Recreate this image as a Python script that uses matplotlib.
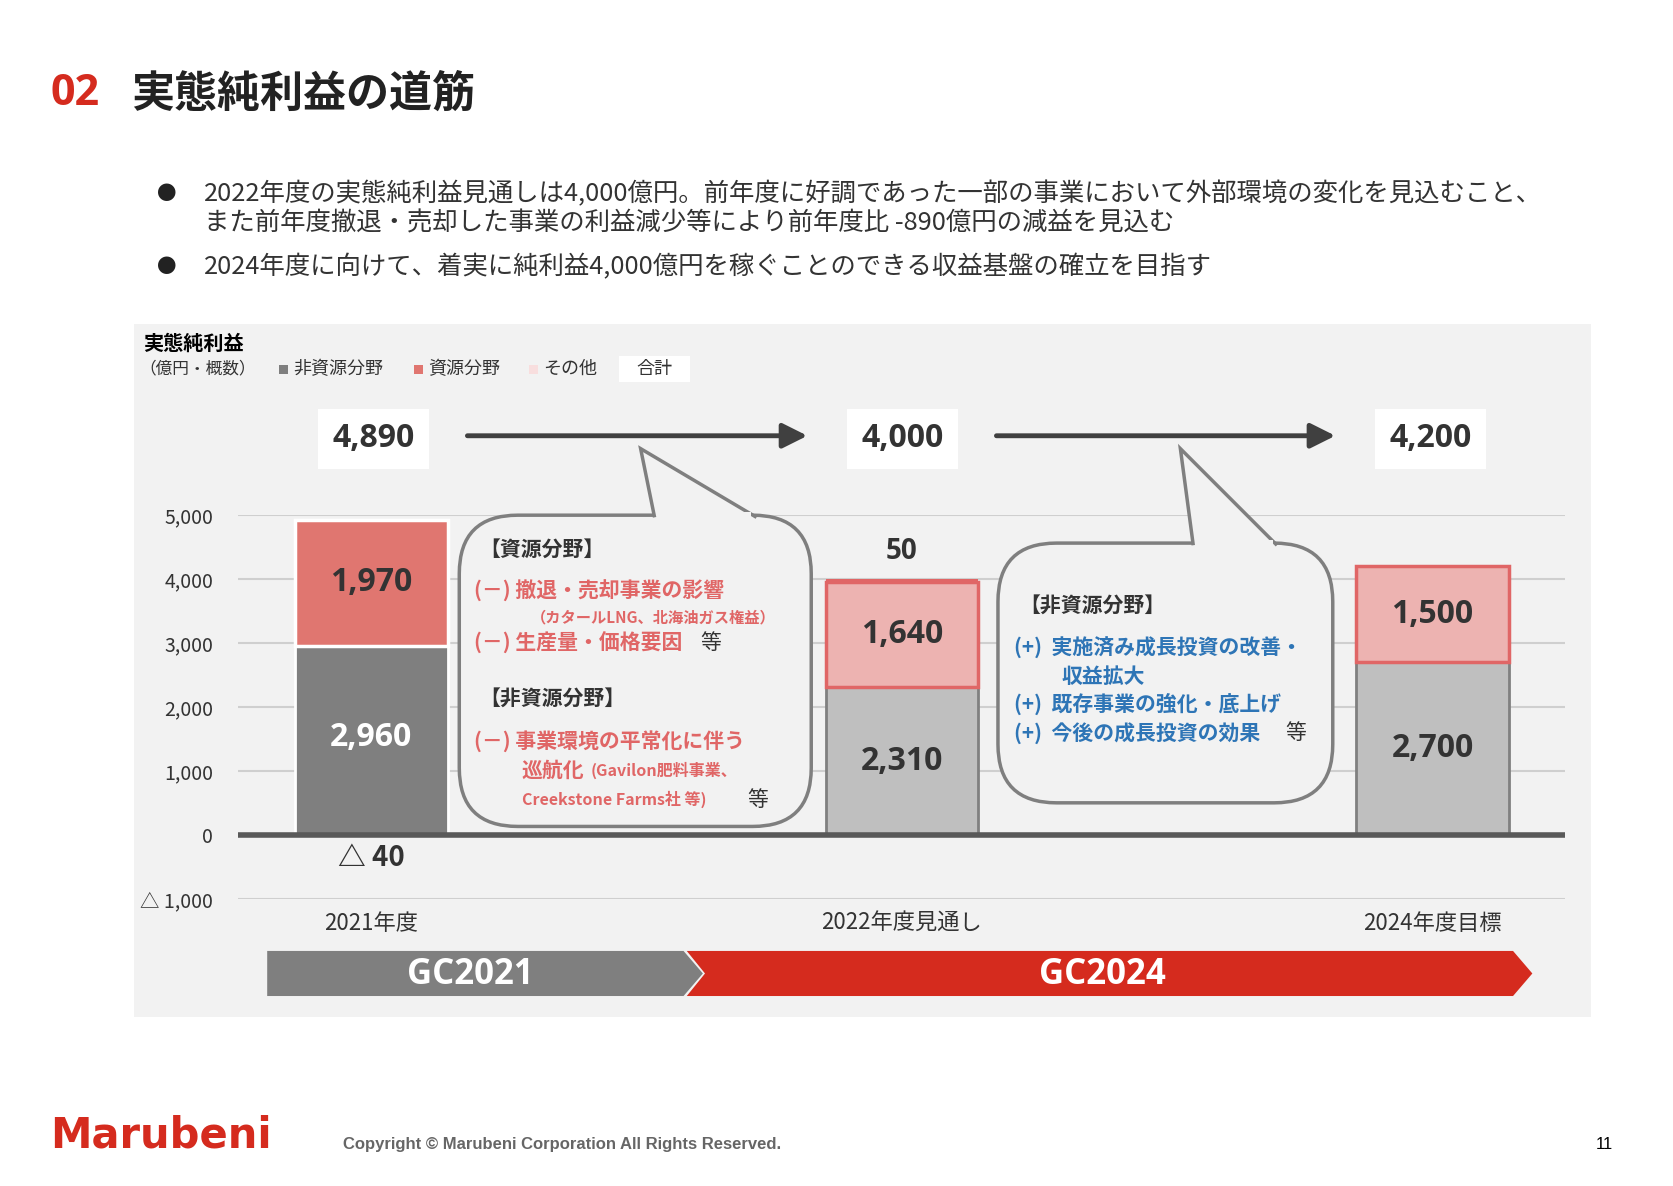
import matplotlib
matplotlib.use("Agg")
import matplotlib.pyplot as plt
from matplotlib.patches import FancyBboxPatch, Rectangle, Polygon
plt.rcParams['font.family'] = ['Noto Sans CJK JP']

categories = ["2021年度", "2022年度見通し", "2024年度目標"]
non_resource = [2960, 2310, 2700]
resource = [1970, 1640, 1500]
other = [-40, 50, 0]
totals = ["4,890", "4,000", "4,200"]
yticks = [-1000, 0, 1000, 2000, 3000, 4000, 5000]
ytick_labels = ["△ 1,000", "0", "1,000", "2,000", "3,000", "4,000", "5,000"]

W, H = 1560, 1105
fig = plt.figure(figsize=(16.74, 11.86), dpi=100)
def fx(x): return x / W
def fy(y): return 1 - y / H
T = fig.transFigure
NUM = "Open Sans"

def box(x0, y0, x1, y1, **kw):
    fig.patches.append(Rectangle((fx(x0), fy(y1)), fx(x1) - fx(x0), fy(y0) - fy(y1), transform=T, **kw))

box(125, 302, 1483, 948, facecolor="#f2f2f2", edgecolor="none", zorder=-5)

fig.text(fx(47), fy(87), "02", color="#d52b1e", fontsize=31, fontweight="bold", va="center", fontfamily=NUM)
fig.text(fx(122), fy(87), "実態純利益の道筋", color="#222222", fontsize=31, fontweight="bold", va="center")
for y, t in [(181, "2022年度の実態純利益見通しは4,000億円。前年度に好調であった一部の事業において外部環境の変化を見込むこと、"),
             (208, "また前年度撤退・売却した事業の利益減少等により前年度比 -890億円の減益を見込む"),
             (249, "2024年度に向けて、着実に純利益4,000億円を稼ぐことのできる収益基盤の確立を目指す")]:
    fig.text(fx(190), fy(y), t, fontsize=18.3, color="#333333", va="center")
for y in [181, 249]:
    fig.text(fx(155), fy(y), "●", fontsize=14, color="#222222", va="center", ha="center")

fig.text(fx(133), fy(320), "実態純利益", fontsize=14.5, fontweight="bold", va="center")
fig.text(fx(130), fy(344), "（億円・概数）", fontsize=12, va="center", color="#333333")
for x, c, t in [(260, "#7f7f7f", "非資源分野"), (386, "#e07670", "資源分野"), (493, "#f8dede", "その他")]:
    box(x, 340, x + 8, 348, facecolor=c, edgecolor="none")
    fig.text(fx(x + 13), fy(344), t, fontsize=13, va="center", color="#333333")
box(577, 332, 643, 356, facecolor="white", edgecolor="none")
fig.text(fx(610), fy(344), "合計", fontsize=13, va="center", ha="center", color="#333333")

ax = fig.add_axes([fx(222), fy(838), fx(1458) - fx(222), fy(480) - fy(838)])
ax.set_zorder(2)
ax.patch.set_visible(False)
ax.set_xlim(-0.251, 2.249)
ax.set_ylim(-1000, 5000)
for s in ax.spines.values():
    s.set_visible(False)
ax.set_xticks([])
ax.set_yticks(yticks)
ax.set_yticklabels(ytick_labels, fontsize=14, color="#333333")
ax.tick_params(length=0, pad=18)
for v in yticks:
    if v != 0:
        ax.axhline(v, color="#cfcfcf", lw=1.5, zorder=1)
ax.axhline(0, color="#595959", lw=4, zorder=4)

x = range(3)
wd = 0.287
nr_col = ["#7f7f7f", "#bfbfbf", "#bfbfbf"]
r_col = ["#e07670", "#edb3b1", "#edb3b1"]
r_edge = ["white", "#e06666", "#e06666"]
for i in x:
    ax.bar(i, non_resource[i], wd, color=nr_col[i], edgecolor="white" if i == 0 else "#808080", lw=2, zorder=3)
    ax.bar(i, resource[i], wd, bottom=non_resource[i], color=r_col[i], edgecolor=r_edge[i], lw=2.5, zorder=3)
    tc = "white" if i == 0 else "#333333"
    ax.text(i, non_resource[i] * 0.5 + (0 if i else 50), f"{non_resource[i]:,}", ha="center", va="center", fontsize=23, fontweight="bold", color=tc, zorder=5, fontfamily=NUM)
    ax.text(i, non_resource[i] + resource[i] / 2, f"{resource[i]:,}", ha="center", va="center", fontsize=23, fontweight="bold", color="#333333", zorder=5, fontfamily=NUM)
ax.bar(1, other[1], wd, bottom=non_resource[1] + resource[1], color="#e06666", zorder=3)
ax.text(1, 4200, f"{other[1]}", ha="center", va="bottom", fontsize=20, fontweight="bold", color="#333333", fontfamily=NUM)
ax.text(0, -350, f"△ {abs(other[0])}", ha="center", va="center", fontsize=20, fontweight="bold", color="#333333")
for i in x:
    ax.text(i, -1380, categories[i], ha="center", va="center", fontsize=16, color="#333333")

for cx, t in zip([348, 841, 1333], totals):
    box(cx - 52, 381, cx + 52, 437, facecolor="white", edgecolor="none", zorder=2)
    fig.text(fx(cx), fy(409), t, fontsize=23, fontweight="bold", ha="center", va="center", color="#333333", zorder=3, fontfamily=NUM)
for x0, x1 in [(433, 755), (926, 1247)]:
    fig.add_artist(matplotlib.patches.FancyArrowPatch((fx(x0), fy(406)), (fx(x1), fy(406)), transform=T,
                   arrowstyle="-|>,head_length=10,head_width=5", color="#404040", lw=3.5, mutation_scale=1.5))

def callout(x0, y0, x1, y1, tail):
    fig.patches.append(FancyBboxPatch((fx(x0), fy(y1)), fx(x1) - fx(x0), fy(y0) - fy(y1),
                       boxstyle="round,pad=0,rounding_size=0.035", transform=T, facecolor="#f2f2f2",
                       edgecolor="#7f7f7f", lw=2.5, zorder=5, mutation_aspect=1.41))
    fig.patches.append(Polygon([(fx(a), fy(b)) for a, b in tail], closed=False, transform=T,
                       facecolor="#f2f2f2", edgecolor="#7f7f7f", lw=2.5, zorder=6))
callout(428, 480, 756, 770, [(610, 482), (597, 418), (705, 482)])
callout(930, 506, 1242, 748, [(1112, 508), (1100, 418), (1190, 508)])
fig.patches.append(Rectangle((fx(612), fy(484)), fx(700) - fx(612), 0.006, transform=T, facecolor="#f2f2f2", edgecolor="none", zorder=7))
fig.patches.append(Rectangle((fx(1114), fy(510)), fx(1186) - fx(1114), 0.006, transform=T, facecolor="#f2f2f2", edgecolor="none", zorder=7))

red = "#e06666"; blue = "#2e75b6"
def t(xp, yp, s, c="#333333", fs=15, w="bold"):
    fig.text(fx(xp), fy(yp), s, color=c, fontsize=fs, fontweight=w, va="center", zorder=8)
t(447, 512, "【資源分野】")
t(442, 551, "(－) 撤退・売却事業の影響", red)
t(495, 575, "（カタールLNG、北海油ガス権益）", red, 11)
t(442, 599, "(－) 生産量・価格要因", red); t(653, 599, "等", w="normal")
t(447, 651, "【非資源分野】")
t(442, 690, "(－) 事業環境の平常化に伴う", red)
t(486, 718, "巡航化", red); t(550, 718, "(Gavilon肥料事業、", red, 11.5)
t(486, 745, "Creekstone Farms社 等)", red, 11.5); t(696, 745, "等", w="normal")
t(950, 564, "【非資源分野】")
t(945, 604, "(+)  実施済み成長投資の改善・", blue)
t(989, 630, "収益拡大", blue)
t(945, 656, "(+)  既存事業の強化・底上げ", blue)
t(945, 683, "(+)  今後の成長投資の効果", blue); t(1198, 683, "等", w="normal")

fig.patches.append(Polygon([(fx(a), fy(b)) for a, b in [(249, 886), (637, 886), (655, 907), (637, 928), (249, 928)]],
                   transform=T, facecolor="#7f7f7f", edgecolor="none"))
fig.patches.append(Polygon([(fx(a), fy(b)) for a, b in [(640, 886), (1410, 886), (1428, 907), (1410, 928), (640, 928), (657, 907)]],
                   transform=T, facecolor="#d52b1e", edgecolor="none"))
fig.text(fx(438), fy(908), "GC2021", color="white", fontsize=25, fontweight="bold", ha="center", va="center", fontfamily=NUM)
fig.text(fx(1027), fy(908), "GC2024", color="white", fontsize=25, fontweight="bold", ha="center", va="center", fontfamily=NUM)

fig.text(fx(47), fy(1058), "Marubeni", color="#d52b1e", fontsize=30, fontweight="bold", va="center", fontfamily="DejaVu Sans")
fig.text(fx(320), fy(1066), "Copyright © Marubeni Corporation All Rights Reserved.", fontsize=12, color="#666666", va="center", fontweight="bold", fontfamily="Liberation Sans")
fig.text(fx(1503), fy(1066), "11", fontsize=12, ha="right", va="center", fontfamily="Liberation Sans")

fig.savefig("out.png", dpi=100, facecolor="white")
